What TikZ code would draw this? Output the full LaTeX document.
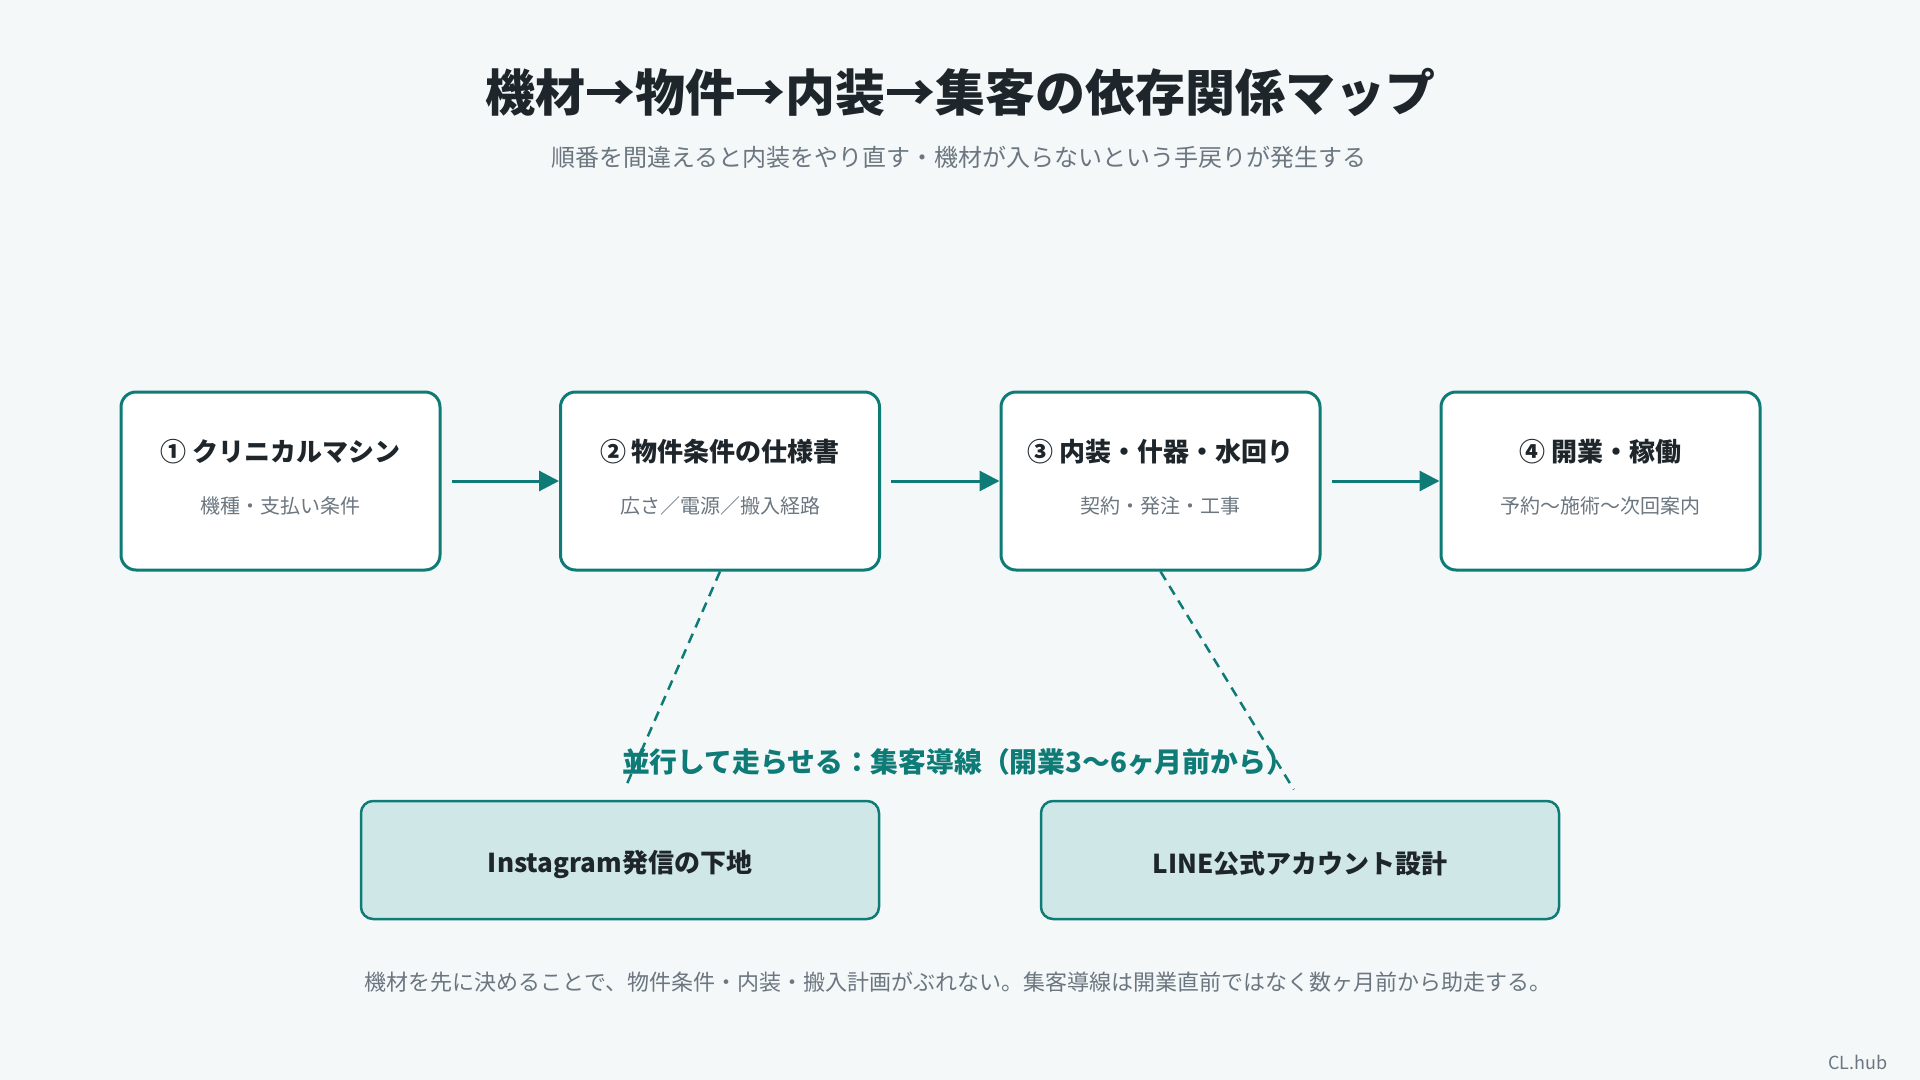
\documentclass[tikz,border=0pt]{standalone}
\usepackage{fontspec}
\setmainfont{Noto Sans CJK JP}
\usetikzlibrary{arrows.meta}
\definecolor{bgc}{HTML}{F4F8F9}
\definecolor{tealc}{HTML}{0F7B77}
\definecolor{tealfill}{HTML}{CFE8E7}
\definecolor{darkc}{HTML}{1F262B}
\definecolor{grayc}{HTML}{6B7680}
\tikzset{
  stagebox/.style={draw=tealc, line width=1.5pt, rounded corners=7.5pt, fill=white,
    minimum width=159.5pt, minimum height=89pt, inner sep=0pt},
  parbox/.style={draw=tealc, line width=1.25pt, rounded corners=6pt, fill=tealfill,
    minimum width=259pt, minimum height=59pt, inner sep=0pt},
  boxtitle/.style={font=\fontsize{13pt}{15pt}\selectfont\bfseries, text=darkc, inner sep=0pt},
  boxsub/.style={font=\fontsize{10pt}{12pt}\selectfont, text=grayc, inner sep=0pt},
  flow/.style={draw=tealc, line width=1.5pt, -{Triangle[length=10pt,width=10pt]}, shorten <=5pt},
  link/.style={draw=tealc, line width=1.25pt, dash pattern=on 5pt off 3.5pt, shorten >=6pt},
}
\begin{document}
\begin{tikzpicture}[x=0.5pt,y=-0.5pt]
\fill[bgc] (0,0) rectangle (1920,1080);
\useasboundingbox (0,0) rectangle (1920,1080);

\node[font=\fontsize{25pt}{30pt}\selectfont\bfseries, text=darkc, inner sep=0pt] (title) at (960,92) {機材→物件→内装→集客の依存関係マップ};
\node[font=\fontsize{12pt}{14pt}\selectfont, text=grayc, inner sep=0pt] (subtitle) at (959,157) {順番を間違えると内装をやり直す・機材が入らないという手戻りが発生する};

\node[stagebox] (b1) at (280.5,481) {};
\node[stagebox] (b2) at (720,481) {};
\node[stagebox] (b3) at (1160.5,481) {};
\node[stagebox] (b4) at (1600.5,481) {};

\node[boxtitle] (t1) at (280.5,452) {① クリニカルマシン};
\node[boxsub] (s1) at (280.5,506) {機種・支払い条件};
\node[boxtitle] (t2) at (720,452) {② 物件条件の仕様書};
\node[boxsub] (s2) at (720,506) {広さ／電源／搬入経路};
\node[boxtitle] (t3) at (1160.5,452) {③ 内装・什器・水回り};
\node[boxsub] (s3) at (1160.5,506) {契約・発注・工事};
\node[boxtitle] (t4) at (1600.5,452) {④ 開業・稼働};
\node[boxsub] (s4) at (1600.5,506) {予約〜施術〜次回案内};

\draw[flow] (b1) -- (b2);
\draw[flow] (b2) -- (b3);
\draw[flow] (b3) -- (b4);

\node[parbox] (ig) at (620,860) {};
\node[boxtitle] (igt) at (620,864) {Instagram発信の下地};
\node[parbox] (line) at (1300,860) {};
\node[boxtitle] (linet) at (1300,864) {LINE公式アカウント設計};

\node[font=\fontsize{13.9pt}{16pt}\selectfont\bfseries, text=tealc, inner sep=0pt] (par) at (958,762) {並行して走らせる：集客導線（開業3〜6ヶ月前から）};

\draw[link] (b2.south) -- (ig.north);
\draw[link] (b3.south) -- (line.north);

\node[font=\fontsize{11pt}{13pt}\selectfont, text=grayc, inner sep=0pt] (note) at (958,982) {機材を先に決めることで、物件条件・内装・搬入計画がぶれない。集客導線は開業直前ではなく数ヶ月前から助走する。};

\node[font=\fontsize{9pt}{11pt}\selectfont, text=grayc, inner sep=0pt, anchor=east] (brand) at (1888,1062) {CL.hub};
\end{tikzpicture}
\end{document}
